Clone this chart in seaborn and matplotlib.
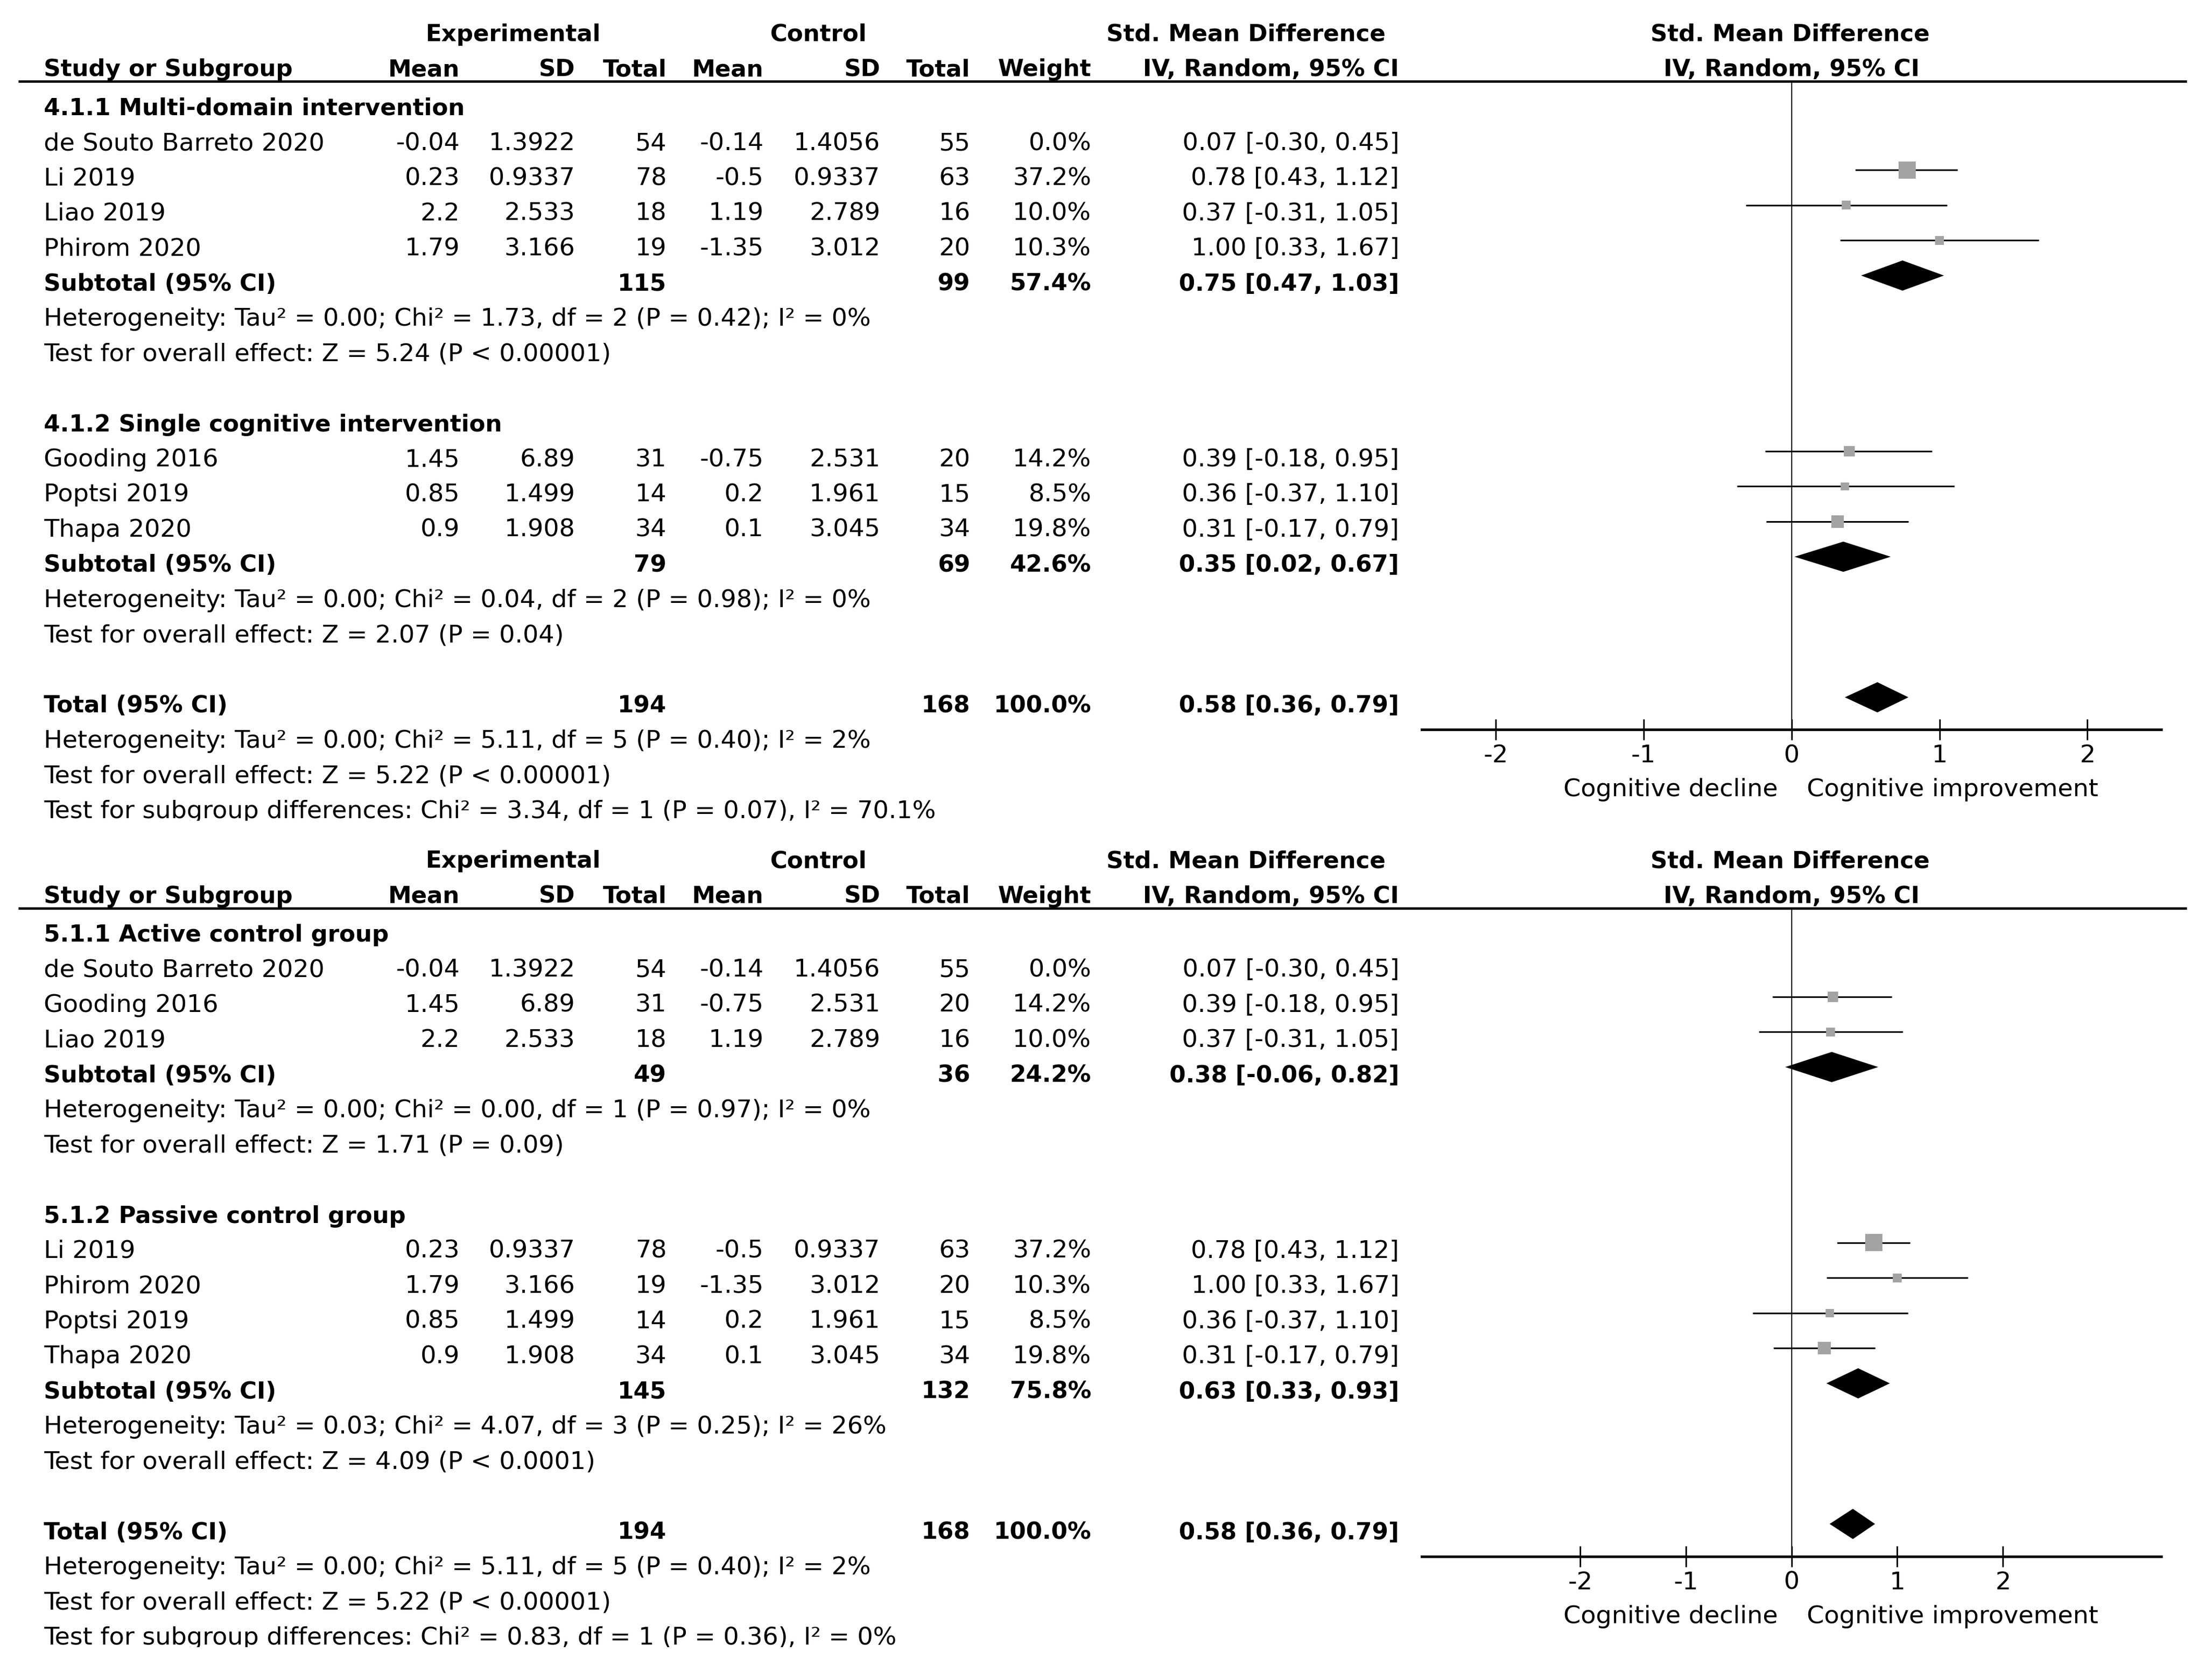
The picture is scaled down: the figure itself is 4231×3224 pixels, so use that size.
import numpy as np
import pandas as pd
import matplotlib
matplotlib.use("Agg")
import matplotlib.pyplot as plt
import matplotlib.transforms as mtransforms
import seaborn as sns

# Study level data (the same seven trials appear in both analyses)
study = ["de Souto Barreto 2020", "Li 2019", "Liao 2019", "Phirom 2020",
         "Gooding 2016", "Poptsi 2019", "Thapa 2020"]
exp_mean = [-0.04, 0.23, 2.2, 1.79, 1.45, 0.85, 0.9]
exp_sd = [1.3922, 0.9337, 2.533, 3.166, 6.89, 1.499, 1.908]
exp_n = [54, 78, 18, 19, 31, 14, 34]
ctl_mean = [-0.14, -0.5, 1.19, -1.35, -0.75, 0.2, 0.1]
ctl_sd = [1.4056, 0.9337, 2.789, 3.012, 2.531, 1.961, 3.045]
ctl_n = [55, 63, 16, 20, 20, 15, 34]
weight = [0.0, 37.2, 10.0, 10.3, 14.2, 8.5, 19.8]
smd = [0.07, 0.78, 0.37, 1.00, 0.39, 0.36, 0.31]
ci_lo = [-0.30, 0.43, -0.31, 0.33, -0.18, -0.37, -0.17]
ci_hi = [0.45, 1.12, 1.05, 1.67, 0.95, 1.10, 0.79]

# Analysis 4.1 - type of intervention
groups_a = ["4.1.1 Multi-domain intervention", "4.1.2 Single cognitive intervention"]
members_a = [[0, 1, 2, 3], [4, 5, 6]]
sub_exp_n_a = [115, 79]
sub_ctl_n_a = [99, 69]
sub_weight_a = [57.4, 42.6]
sub_smd_a = [0.75, 0.35]
sub_lo_a = [0.47, 0.02]
sub_hi_a = [1.03, 0.67]
sub_het_a = ["Heterogeneity: Tau² = 0.00; Chi² = 1.73, df = 2 (P = 0.42); I² = 0%",
             "Heterogeneity: Tau² = 0.00; Chi² = 0.04, df = 2 (P = 0.98); I² = 0%"]
sub_z_a = ["Test for overall effect: Z = 5.24 (P < 0.00001)",
           "Test for overall effect: Z = 2.07 (P = 0.04)"]
diff_a = "Test for subgroup differences: Chi² = 3.34, df = 1 (P = 0.07), I² = 70.1%"

# Analysis 5.1 - type of control group
groups_b = ["5.1.1 Active control group", "5.1.2 Passive control group"]
members_b = [[0, 4, 2], [1, 3, 5, 6]]
sub_exp_n_b = [49, 145]
sub_ctl_n_b = [36, 132]
sub_weight_b = [24.2, 75.8]
sub_smd_b = [0.38, 0.63]
sub_lo_b = [-0.06, 0.33]
sub_hi_b = [0.82, 0.93]
sub_het_b = ["Heterogeneity: Tau² = 0.00; Chi² = 0.00, df = 1 (P = 0.97); I² = 0%",
             "Heterogeneity: Tau² = 0.03; Chi² = 4.07, df = 3 (P = 0.25); I² = 26%"]
sub_z_b = ["Test for overall effect: Z = 1.71 (P = 0.09)",
           "Test for overall effect: Z = 4.09 (P < 0.0001)"]
diff_b = "Test for subgroup differences: Chi² = 0.83, df = 1 (P = 0.36), I² = 0%"

# Overall pooled result (same in both)
total_exp_n = 194
total_ctl_n = 168
total_weight = 100.0
total_smd = 0.58
total_lo = 0.36
total_hi = 0.79
total_het = "Heterogeneity: Tau² = 0.00; Chi² = 5.11, df = 5 (P = 0.40); I² = 2%"
total_z = "Test for overall effect: Z = 5.22 (P < 0.00001)"

ticks = [-2, -1, 0, 1, 2]
favours = ["Cognitive decline", "Cognitive improvement"]

sns.set_theme(style="white")
plt.rcParams["font.family"] = ["DejaVu Sans"]
plt.rcParams["text.color"] = "black"
plt.rcParams["axes.edgecolor"] = "black"
plt.rcParams["xtick.color"] = "black"

FS = 11.4      # regular text
FSB = 10.8     # bold text
W, H = 1568.0, 1195.0   # layout grid (page units)

# column anchors on the layout grid
X_STUDY = 31
X_EMEAN, X_ESD, X_EN = 327, 409, 474
X_CMEAN, X_CSD, X_CN = 543, 626, 690
X_W, X_CI = 776, 995

fig = plt.figure(figsize=(4231 / 300, 3224 / 300), dpi=300)
fig.patch.set_facecolor("white")


def ci_text(e, lo, hi):
    return f"{e:.2f} [{lo:.2f}, {hi:.2f}]"


def draw_panel(shift, xmax, groups, members, s_en, s_cn, s_w, s_est, s_lo, s_hi,
               s_het, s_z, diff):
    # forest axes: one y unit per table row
    ax = fig.add_axes([1011 / W, 1 - (519 + shift) / H, 526 / W, 461 / H])
    tf = mtransforms.blended_transform_factory(fig.transFigure, ax.transData)

    def put(px, r, s, ha="right", bold=False, off=0.43):
        return ax.text(px / W, r + off, s, transform=tf, ha=ha, va="baseline",
                       fontsize=FSB if bold else FS,
                       fontweight="bold" if bold else "normal", clip_on=False)

    # header
    hb = dict(bold=True, off=0.33)
    put(365, -2, "Experimental", ha="center", **hb)
    put(582, -2, "Control", ha="center", **hb)
    put(886, -2, "Std. Mean Difference", ha="center", **hb)
    put(1273, -2, "Std. Mean Difference", ha="center", **hb)
    put(X_STUDY, -1, "Study or Subgroup", ha="left", **hb)
    for px, s in zip([X_EMEAN, X_ESD, X_EN, X_CMEAN, X_CSD, X_CN, X_W, X_CI],
                     ["Mean", "SD", "Total", "Mean", "SD", "Total", "Weight",
                      "IV, Random, 95% CI"]):
        put(px, -1, s, **hb)
    put(1274, -1, "IV, Random, 95% CI", ha="center", **hb)
    ax.plot([13 / W, 1555 / W], [-0.52, -0.52], transform=tf, color="black",
            lw=1.1, clip_on=False, solid_capstyle="butt")

    pts = []
    dia = []
    r = 0
    for g in range(len(groups)):
        put(X_STUDY, r, groups[g], ha="left", bold=True)
        r += 1
        for i in members[g]:
            put(X_STUDY, r, study[i], ha="left")
            put(X_EMEAN, r, f"{exp_mean[i]:g}")
            put(X_ESD, r, f"{exp_sd[i]:g}")
            put(X_EN, r, f"{exp_n[i]}")
            put(X_CMEAN, r, f"{ctl_mean[i]:g}")
            put(X_CSD, r, f"{ctl_sd[i]:g}")
            put(X_CN, r, f"{ctl_n[i]}")
            put(X_W, r, f"{weight[i]:.1f}%")
            put(X_CI, r, ci_text(smd[i], ci_lo[i], ci_hi[i]))
            pts.append((r, smd[i], ci_lo[i], ci_hi[i], weight[i]))
            r += 1
        put(X_STUDY, r, "Subtotal (95% CI)", ha="left", bold=True)
        put(X_EN, r, f"{s_en[g]}", bold=True)
        put(X_CN, r, f"{s_cn[g]}", bold=True)
        put(X_W, r, f"{s_w[g]:.1f}%", bold=True)
        put(X_CI, r, ci_text(s_est[g], s_lo[g], s_hi[g]), bold=True)
        dia.append((r, s_est[g], s_lo[g], s_hi[g]))
        put(X_STUDY, r + 1, s_het[g], ha="left")
        put(X_STUDY, r + 2, s_z[g], ha="left")
        r += 4

    put(X_STUDY, r, "Total (95% CI)", ha="left", bold=True)
    put(X_EN, r, f"{total_exp_n}", bold=True)
    put(X_CN, r, f"{total_ctl_n}", bold=True)
    put(X_W, r, f"{total_weight:.1f}%", bold=True)
    put(X_CI, r, ci_text(total_smd, total_lo, total_hi), bold=True)
    dia.append((r, total_smd, total_lo, total_hi))
    put(X_STUDY, r + 1, total_het, ha="left")
    put(X_STUDY, r + 2, total_z, ha="left")
    t = put(X_STUDY, r + 3, diff, ha="left")
    # the source image cuts this last line just under the baseline
    y_cut = 1 - (71 + 25 * (r + 3.51) + shift) / H
    t.set_clip_box(mtransforms.TransformedBbox(
        mtransforms.Bbox([[0, y_cut], [1, 1]]), fig.transFigure))
    t.set_clip_on(True)

    # study estimates: CI lines and weight-scaled squares
    df = pd.DataFrame(pts, columns=["row", "smd", "lo", "hi", "weight"])
    df = df[df["weight"] > 0]
    ax.hlines(df["row"], df["lo"], df["hi"], color="black", lw=0.75, zorder=2)
    sns.scatterplot(data=df, x="smd", y="row", size="weight", size_norm=(0, 40),
                    sizes=(0, 1.69 * 40), marker="s", color="#a3a3a3",
                    linewidth=0, legend=False, ax=ax, zorder=3)

    # pooled diamonds
    for rr, e, lo, hi in dia:
        ax.fill([lo, e, hi, e], [rr, rr - 0.43, rr, rr + 0.43], color="black",
                lw=0, zorder=4)

    ax.axvline(0, color="black", lw=0.5, zorder=1)
    ax.set_xlim(-xmax, xmax)
    ax.set_ylim(17.92, -0.52)
    ax.set_xlabel("")
    ax.set_ylabel("")
    ax.set_yticks([])
    ax.set_xticks(ticks)
    ax.set_xticklabels([f"{v:g}" for v in ticks])
    ax.tick_params(axis="x", direction="inout", length=9.5, width=0.7, pad=2.0,
                   labelsize=FS, bottom=True)
    sns.despine(ax=ax, left=True)
    ax.spines["bottom"].set_linewidth(1.2)
    ax.set_facecolor("none")

    ax.annotate(favours[0], xy=(0, 19.82), xytext=(-6.2, 0),
                textcoords="offset points", ha="right", va="baseline",
                fontsize=FS, annotation_clip=False)
    ax.annotate(favours[1], xy=(0, 19.82), xytext=(7.0, 0),
                textcoords="offset points", ha="left", va="baseline",
                fontsize=FS, annotation_clip=False)
    return ax


draw_panel(0, 2.5, groups_a, members_a, sub_exp_n_a, sub_ctl_n_a, sub_weight_a,
           sub_smd_a, sub_lo_a, sub_hi_a, sub_het_a, sub_z_a, diff_a)
draw_panel(588, 3.5, groups_b, members_b, sub_exp_n_b, sub_ctl_n_b, sub_weight_b,
           sub_smd_b, sub_lo_b, sub_hi_b, sub_het_b, sub_z_b, diff_b)

fig.savefig("out.png", dpi=300, facecolor="white")
